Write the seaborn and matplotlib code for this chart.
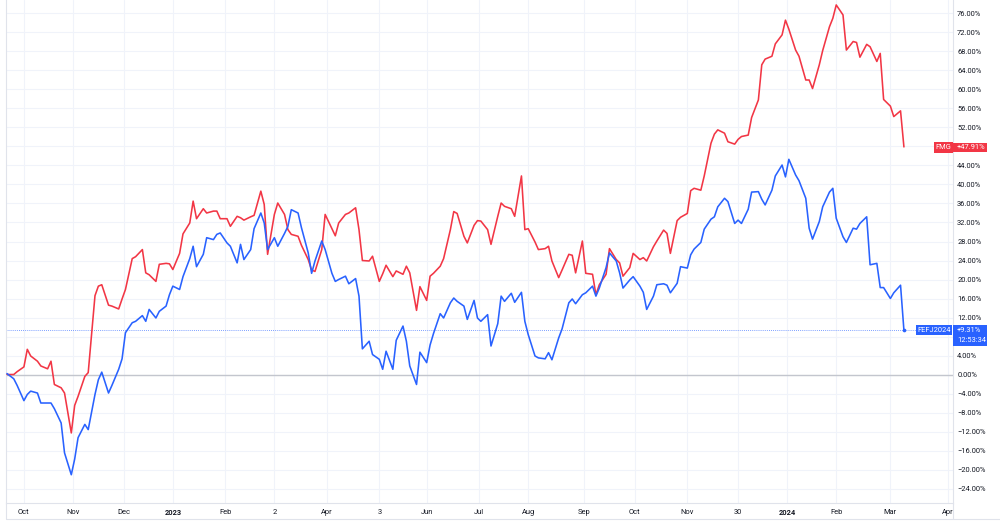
import numpy as np
import pandas as pd
import matplotlib
matplotlib.use("Agg")
import matplotlib.pyplot as plt
import seaborn as sns
from matplotlib.patches import Rectangle
from matplotlib.lines import Line2D

# ---------------- data (percent change since start) ----------------
start_date = "2022-09-23"

fmg = [0.0, 0.0, 0.6, 1.6, 5.3, 3.9, 2.8, 1.8, 1.2, 2.8,
       -2.1, -2.8, -3.9, -12.3, -6.5, -4.6, -0.4, 0.4, 16.6, 18.6,
       18.9, 14.6, 14.4, 13.8, 15.9, 17.9, 24.4, 24.8, 26.3, 21.4,
       21.0, 19.6, 23.2, 23.4, 23.3, 22.1, 25.5, 29.6, 31.9, 36.5,
       32.8, 34.9, 34.0, 34.4, 34.4, 32.8, 32.8, 31.2, 33.3, 33.0,
       32.5, 33.2, 33.5, 38.6, 35.8, 25.3, 33.7, 36.1, 33.7, 30.5,
       29.5, 29.1, 27.2, 24.2, 22.0, 21.7, 26.3, 33.7, 30.7, 29.2,
       31.9, 33.7, 34.0, 35.1, 30.5, 24.0, 23.9, 24.9, 19.6, 21.2,
       23.0, 20.6, 21.8, 21.1, 22.8, 21.4, 13.5, 18.5, 15.6, 20.7,
       21.3, 22.8, 24.4, 30.5, 34.3, 33.9, 29.1, 27.7, 31.4, 32.4,
       32.3, 30.5, 27.4, 33.3, 36.1, 35.4, 34.9, 33.3, 41.8, 30.5,
       30.7, 27.9, 26.3, 26.5, 27.0, 23.9, 20.4, 22.0, 25.3, 25.1,
       21.4, 28.1, 21.3, 21.1, 16.8, 18.9, 21.1, 26.5, 24.2, 23.5,
       20.7, 22.5, 25.5, 24.2, 24.6, 23.9, 26.9, 28.1, 30.4, 29.7,
       25.5, 32.4, 33.1, 33.9, 38.7, 39.2, 38.8, 41.8, 48.7, 50.6,
       51.5, 50.8, 49.0, 48.5, 49.5, 50.1, 50.4, 54.1, 57.8, 65.2,
       66.4, 67.0, 69.6, 71.5, 74.6, 72.7, 68.3, 67.0, 62.0, 62.0,
       60.2, 65.2, 68.2, 73.2, 75.0, 77.8, 75.7, 68.3, 70.1, 69.9,
       66.8, 69.5, 69.0, 65.9, 67.6, 57.9, 56.5, 54.3, 55.5, 47.91]

fef = [0.2, -0.9, -2.3, -5.5, -4.2, -3.5, -3.9, -6.0, -6.0, -6.0,
       -7.2, -10.2, -16.5, -21.1, -17.8, -13.3, -10.5, -11.6, -4.2, -1.1,
       0.5, -3.9, -2.3, 1.1, 3.3, 8.8, 10.9, 11.2, 12.4, 11.2,
       13.7, 11.9, 13.3, 14.4, 16.8, 18.6, 17.9, 20.6, 24.4, 27.0,
       22.7, 25.3, 28.8, 28.4, 29.5, 29.8, 27.7, 27.0, 23.5, 27.4,
       24.2, 26.3, 30.7, 34.0, 31.9, 26.3, 28.8, 27.0, 29.7, 31.2,
       34.7, 34.0, 30.9, 25.6, 21.3, 23.9, 28.1, 26.3, 21.3, 19.6,
       20.0, 20.7, 19.1, 20.2, 16.5, 5.4, 7.0, 4.2, 3.2, 1.1,
       4.9, 1.1, 7.2, 10.2, 7.0, 1.8, -2.1, 4.7, 2.5, 6.2,
       8.6, 12.8, 11.9, 15.1, 16.1, 15.4, 14.4, 11.6, 15.6, 11.9,
       11.2, 12.6, 6.0, 10.7, 16.5, 15.4, 17.1, 15.2, 17.3, 11.2,
       8.4, 3.9, 3.5, 3.3, 4.6, 3.1, 7.7, 9.6, 15.1, 15.9,
       14.9, 16.8, 17.2, 18.6, 16.5, 18.2, 22.5, 25.6, 23.9, 21.4,
       18.2, 19.9, 20.6, 18.6, 17.3, 13.7, 16.5, 18.9, 19.1, 18.8,
       17.2, 19.2, 22.7, 22.4, 25.2, 26.4, 27.8, 30.6, 32.7, 33.2,
       35.3, 37.1, 36.4, 31.8, 32.5, 31.8, 34.8, 38.4, 38.5, 36.9,
       35.7, 38.8, 41.8, 44.1, 41.6, 45.3, 42.0, 40.8, 37.1, 30.8,
       28.5, 32.2, 35.3, 38.4, 39.2, 32.9, 29.0, 27.8, 30.8, 30.6,
       31.8, 33.2, 23.1, 23.4, 18.3, 18.3, 16.0, 17.2, 18.8, 9.31]

symbols = ["FMG", "FEFJ2024"]
last_time = "12:53:34"

tick_dates = ["2022-10-03", "2022-11-01", "2022-12-01", "2022-12-30", "2023-01-30",
              "2023-02-28", "2023-03-31", "2023-05-01", "2023-05-29", "2023-06-29",
              "2023-07-28", "2023-08-30", "2023-09-29", "2023-10-30", "2023-11-29",
              "2023-12-28", "2024-01-26", "2024-02-27", "2024-04-01"]
tick_labels = ["Oct", "Nov", "Dec", "2023", "Feb", "2", "Apr", "3", "Jun", "Jul",
               "Aug", "Sep", "Oct", "Nov", "30", "2024", "Feb", "Mar", "Apr"]
y_tick_values = [-24, -20, -16, -12, -8, -4, 0, 4, 8, 12, 16, 20, 24, 28, 32, 36,
                 40, 44, 48, 52, 56, 60, 64, 68, 72, 76]

# ---------------- styling ----------------
RED = "#f23645"
BLUE = "#2962ff"
TEXT = "#131722"
GRID = "#f0f3fa"
BORDER = "#e0e3eb"
FS = 5.4

sns.set_theme(style="white")
plt.rcParams["font.family"] = ["Roboto", "DejaVu Sans"]

dates = pd.bdate_range(start_date, periods=len(fmg), freq="2B")
df = pd.DataFrame({
    "date": list(dates) + list(dates),
    "pct": fmg + fef,
    "symbol": [symbols[0]] * len(fmg) + [symbols[1]] * len(fef),
})

W, H = 1000, 522
fig = plt.figure(figsize=(W / 100, H / 100), dpi=100)
fig.patch.set_facecolor("white")
L, R, T, B = 6, 953, 0, 503
ax = fig.add_axes([L / W, (H - B) / H, (R - L) / W, (B - T) / H])
ax.set_facecolor("white")

sns.lineplot(data=df, x="date", y="pct", hue="symbol", hue_order=symbols,
             palette={symbols[0]: RED, symbols[1]: BLUE}, linewidth=1.15,
             legend=False, ax=ax, zorder=3)

ax.set_xlim(pd.Timestamp("2022-09-22 10:00"), pd.Timestamp("2024-04-04"))
ax.set_ylim(-27.05, 78.84)

last_fef = fef[-1]
last_fmg = fmg[-1]

# ticks / grid
ax.set_xticks(pd.to_datetime(tick_dates))
ax.set_xticklabels(tick_labels)
ax.set_yticks(y_tick_values)
# labels hidden behind the last-value boxes (as in the original chart)
ylabels = []
for v in y_tick_values:
    hidden = abs(v - last_fmg) < 1.5 or (last_fef - 3.3 < v < last_fef + 1.0)
    ylabels.append("" if hidden else f"{v:.2f}%".replace("-", "\u2212"))
ax.set_yticklabels(ylabels)
ax.grid(True, color=GRID, linewidth=0.8, zorder=0)
ax.yaxis.tick_right()
ax.tick_params(axis="y", length=0, pad=3, labelsize=FS, labelcolor=TEXT)
ax.tick_params(axis="x", length=0, pad=4.5, labelsize=FS, labelcolor=TEXT)
for lab in ax.get_xticklabels():
    if len(lab.get_text()) == 4:
        lab.set_fontweight("bold")
ax.set_xlabel("")
ax.set_ylabel("")

for side in ["left", "bottom", "right"]:
    ax.spines[side].set_visible(True)
    ax.spines[side].set_color(BORDER)
    ax.spines[side].set_linewidth(0.8)
ax.spines["top"].set_visible(False)

# zero line
ax.axhline(0, color="#c3c6ce", linewidth=1.0, zorder=1)

# last-value dotted line for main symbol
ax.axhline(last_fef, xmax=(917 - L) / (R - L), color=BLUE, linestyle=(0, (1, 1.5)),
           linewidth=0.6, alpha=0.8, zorder=2)
ax.scatter([dates[-1]], [last_fef], s=7, color=BLUE, zorder=4, linewidths=0)

# outer frame of bottom strip
for xs, ys in [([L, W], [519, 519]), ([L, L], [B, 519]), ([R, R], [B, 519])]:
    fig.add_artist(Line2D([x / W for x in xs], [1 - y / H for y in ys],
                          color=BORDER, linewidth=0.8, transform=fig.transFigure))

# labels on the right
trans = ax.get_yaxis_transform()
px = 1.0 / (R - L)  # one pixel in axes fraction
ppct = 1 / 4.75     # one pixel in data percent

# name tags
ax.annotate(symbols[0], xy=(1, last_fmg - 0.1), xycoords=trans, xytext=(-2, 0),
            textcoords="offset pixels", ha="right", va="center", color="white",
            fontsize=FS, bbox=dict(boxstyle="square,pad=0.22", fc=RED, ec="none"),
            zorder=6, annotation_clip=False)
ax.annotate(symbols[1], xy=(1, last_fef), xycoords=trans, xytext=(-2, 0),
            textcoords="offset pixels", ha="right", va="center", color="white",
            fontsize=FS, bbox=dict(boxstyle="square,pad=0.18", fc=BLUE, ec="none"),
            zorder=6, annotation_clip=False)

# value boxes
ax.add_patch(Rectangle((1.0, last_fmg - 0.1 - 4.6 * ppct), 34 * px, 9.4 * ppct,
                       transform=trans, fc=RED, ec="none", clip_on=False, zorder=6))
ax.text(1.0 + 4 * px, last_fmg - 0.1, f"+{last_fmg:.2f}%", transform=trans,
        ha="left", va="center", color="white", fontsize=FS, zorder=7, clip_on=False)

ax.add_patch(Rectangle((1.0, last_fef - 15.5 * ppct), 34 * px, 20.5 * ppct,
                       transform=trans, fc=BLUE, ec="none", clip_on=False, zorder=6))
ax.text(1.0 + 4 * px, last_fef, f"+{last_fef:.2f}%", transform=trans,
        ha="left", va="center", color="white", fontsize=FS, zorder=7, clip_on=False)
ax.text(1.0 + 4 * px, last_fef - 10 * ppct, last_time, transform=trans,
        ha="left", va="center", color="white", fontsize=FS, zorder=7, clip_on=False)

fig.savefig("out.png", dpi=100, facecolor="white")
